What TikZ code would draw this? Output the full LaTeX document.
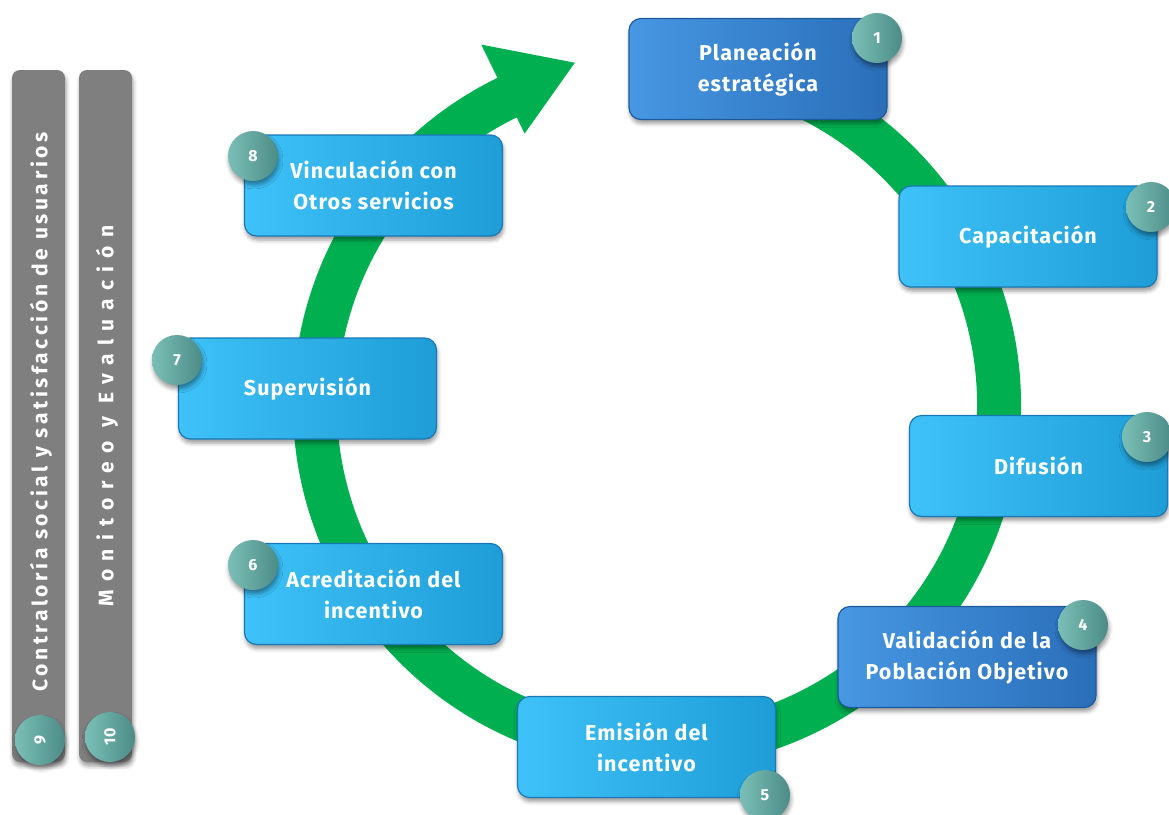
\documentclass[tikz,border=0pt]{standalone}
\usepackage{fontspec}
\setmainfont{Fira Sans}
\usetikzlibrary{shadows.blur}

\definecolor{ringgreen}{HTML}{00B050}
\definecolor{lightA}{HTML}{3EC2F8}
\definecolor{lightB}{HTML}{1E9DD6}
\definecolor{lightEdge}{HTML}{1A78B4}
\definecolor{darkA}{HTML}{4797E3}
\definecolor{darkB}{HTML}{2A6EB8}
\definecolor{darkEdge}{HTML}{1D5A9C}
\definecolor{tealA}{HTML}{7ABFB7}
\definecolor{tealB}{HTML}{4D8C86}
\definecolor{bargray}{HTML}{7F7F7F}

\begin{document}
\begin{tikzpicture}[x=1pt,y=-1pt,
  softshadow/.style={blur shadow={shadow xshift=1pt, shadow yshift=-4pt,
      shadow blur radius=4pt, shadow opacity=40}},
  stepbox/.style={rounded corners=12pt, minimum width=258pt, minimum height=101pt,
      inner sep=0pt, draw=lightEdge, line width=1.2pt, left color=lightA, right color=lightB,
      text=white, align=center,
      font=\bfseries\fontsize{21.5}{31}\selectfont\addfontfeature{LetterSpace=5}, softshadow},
  darkbox/.style={stepbox, draw=darkEdge, left color=darkA, right color=darkB},
  badge/.style={circle, minimum size=50pt, inner sep=0pt, left color=tealA, right color=tealB,
      text=white, font=\bfseries\fontsize{16}{16}\selectfont, softshadow},
  sidebar/.style={rounded corners=8pt, fill=bargray, minimum width=53pt, minimum height=692pt,
      inner sep=0pt, softshadow},
  bartext/.style={rotate=90, text=white, inner sep=0pt}
]
\useasboundingbox (0,0) rectangle (1169,814);

% cycle ring with arrow head
\coordinate (C) at (657,405);
\draw[ringgreen, line width=44pt] (C) ++(-80:342) arc[start angle=-80, end angle=245, radius=342];
\fill[ringgreen, shift={(657,405)}] (244:302) -- (256.5:352) -- (244:401) -- cycle;

% side bars
\node[sidebar] (bar9) at (38.5,416) {};
\node[sidebar] (bar10) at (105.5,416) {};
\node[bartext, font=\bfseries\fontsize{21}{21}\selectfont\addfontfeature{LetterSpace=17}] (t9) at (41,412)
  {Contraloría social y satisfacción de usuarios};
\node[bartext, font=\bfseries\fontsize{21}{21}\selectfont\addfontfeature{LetterSpace=40}] (t10) at (107,416)
  {Monitoreo y Evaluación};

% steps of the cycle
\node[darkbox]  (s1) at (758,69)  {Planeación\\estratégica};
\node[stepbox]  (s2) at (1028,236.5) {Capacitación};
\node[stepbox]  (s3) at (1038.5,466) {Difusión};
\node[darkbox]  (s4) at (967,657) {Validación de la\\Población Objetivo};
\node[stepbox]  (s5) at (646.5,747) {Emisión del\\incentivo};
\node[stepbox]  (s6) at (373.5,594) {Acreditación del\\incentivo};
\node[stepbox]  (s7) at (307.5,388.5) {Supervisión};
\node[stepbox]  (s8) at (373.5,185.5) {Vinculación con\\Otros servicios};

% numbered badges
\node[badge] (b1) at (877,38) {1};
\node[badge] (b2) at (1151,207) {2};
\node[badge] (b3) at (1147,437) {3};
\node[badge] (b4) at (1083,625) {4};
\node[badge] (b5) at (765,795) {5};
\node[badge] (b6) at (253,565) {6};
\node[badge] (b7) at (177,360) {7};
\node[badge] (b8) at (253,156) {8};
\node[badge, rotate=90] (b9) at (40,740) {9};
\node[badge, rotate=90] (b10) at (110,737) {10};
\end{tikzpicture}
\end{document}
